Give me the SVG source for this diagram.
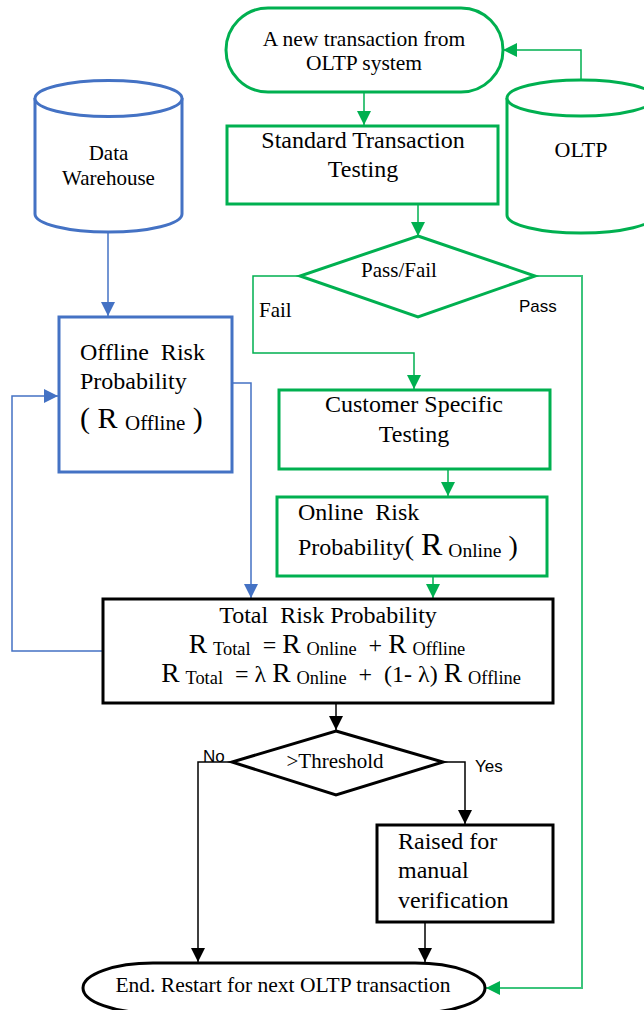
<svg xmlns="http://www.w3.org/2000/svg" width="644" height="1010" viewBox="0 0 644 1010">
<style>
.g{fill:#fff;stroke:#00B050;stroke-width:3}
.b{fill:#fff;stroke:#4472C4;stroke-width:3}
.k{fill:#fff;stroke:#000;stroke-width:3}
.t{font-family:"Liberation Serif",serif;fill:#000}
.s{font-family:"Liberation Sans",sans-serif;fill:#000;font-size:17px}
.cg{fill:none;stroke:#00B050;stroke-width:1.5}
.cg2{fill:none;stroke:#3CC47C;stroke-width:2}
.cb{fill:none;stroke:#4472C4;stroke-width:1.5}
.ck{fill:none;stroke:#000;stroke-width:1.5}
</style>
<defs>
<marker id="ag" markerUnits="userSpaceOnUse" markerWidth="14" markerHeight="14" viewBox="0 0 14 14" refX="14" refY="7" orient="auto"><path d="M0,0L14,7L0,14z" fill="#00B050"/></marker>
<marker id="ab" markerUnits="userSpaceOnUse" markerWidth="14" markerHeight="14" viewBox="0 0 14 14" refX="14" refY="7" orient="auto"><path d="M0,0L14,7L0,14z" fill="#4472C4"/></marker>
<marker id="ak" markerUnits="userSpaceOnUse" markerWidth="14" markerHeight="14" viewBox="0 0 14 14" refX="14" refY="7" orient="auto"><path d="M0,0L14,7L0,14z" fill="#000"/></marker>
</defs>

<g id="connectors">
<path class="cg" d="M581,80V50H503" marker-end="url(#ag)"/>
<path class="cg" d="M364,92V125" marker-end="url(#ag)"/>
<path class="cg" d="M418,204V236" marker-end="url(#ag)"/>
<path class="cg" d="M300,276H253V353H414V389" marker-end="url(#ag)"/>
<path class="cg2" d="M535,276H582V988H486" marker-end="url(#ag)"/>
<path class="cg" d="M448,469V496" marker-end="url(#ag)"/>
<path class="cg" d="M433,576V598" marker-end="url(#ag)"/>
<path class="cb" d="M108,232V316" marker-end="url(#ab)"/>
<path class="cb" d="M232,383H251V598" marker-end="url(#ab)"/>
<path class="cb" d="M103,651H12V396H58" marker-end="url(#ab)"/>
<path class="ck" d="M336,703V730" marker-end="url(#ak)"/>
<path class="ck" d="M232,762H198V962" marker-end="url(#ak)"/>
<path class="ck" d="M443,762H465V824" marker-end="url(#ak)"/>
<path class="ck" d="M425,922V962" marker-end="url(#ak)"/>
<text class="t" x="259" y="317" font-size="21">Fail</text>
<text class="s" x="519" y="312">Pass</text>
<text class="s" x="203" y="762">No</text>
<text class="s" x="475" y="772">Yes</text>
</g>

<g id="start">
<rect class="g" x="226" y="8" width="277" height="84" rx="42"/>
<text class="t" x="364" y="46" font-size="21.5" text-anchor="middle">A new transaction from</text>
<text class="t" x="364" y="70" font-size="21.5" text-anchor="middle">OLTP system</text>
</g>

<g id="oltp">
<path class="g" d="M507,98V215A74,18 0 0 0 655,215V98"/>
<ellipse class="g" cx="581" cy="98" rx="74" ry="18"/>
<text class="t" x="581" y="157" font-size="22" text-anchor="middle">OLTP</text>
</g>

<g id="standard">
<rect class="g" x="227" y="126" width="271" height="78"/>
<text class="t" x="363" y="148" font-size="24" text-anchor="middle">Standard Transaction</text>
<text class="t" x="363" y="177" font-size="24" text-anchor="middle">Testing</text>
</g>

<g id="passfail">
<path class="g" d="M418,236L535,276L418,317L300,276Z"/>
<text class="t" x="399" y="277" font-size="21" text-anchor="middle">Pass/Fail</text>
</g>

<g id="datawarehouse">
<path class="b" d="M35,98V214A73.5,18 0 0 0 182,214V98"/>
<ellipse class="b" cx="108.5" cy="98.5" rx="73.5" ry="18"/>
<text class="t" x="108.5" y="160" font-size="21" text-anchor="middle">Data</text>
<text class="t" x="108.5" y="185" font-size="21" text-anchor="middle">Warehouse</text>
</g>

<g id="offline">
<rect class="b" x="59" y="317" width="173" height="155"/>
<text class="t" x="80" y="360" font-size="24" xml:space="preserve">Offline  Risk</text>
<text class="t" x="80" y="389" font-size="24">Probability</text>
<text class="t" x="80" y="428" font-size="30" xml:space="preserve">( R <tspan font-size="21" dy="2">Offline</tspan><tspan dy="-2"> )</tspan></text>
</g>

<g id="customer">
<rect class="g" x="279" y="390" width="271" height="79"/>
<text class="t" x="414" y="412" font-size="24" text-anchor="middle">Customer Specific</text>
<text class="t" x="414" y="442" font-size="24" text-anchor="middle">Testing</text>
</g>

<g id="online">
<rect class="g" x="277" y="497" width="270" height="79"/>
<text class="t" x="298" y="520" font-size="24" xml:space="preserve">Online  Risk</text>
<text class="t" x="298" y="555" font-size="24" xml:space="preserve">Probability<tspan font-size="28">( </tspan><tspan font-size="32">R</tspan> <tspan font-size="19.5" dy="2">Online</tspan><tspan font-size="28" dy="-2"> )</tspan></text>
</g>

<g id="total">
<rect class="k" x="103" y="599" width="450" height="104"/>
<text class="t" x="328" y="623" font-size="24" text-anchor="middle" xml:space="preserve">Total  Risk Probability</text>
<text class="t" x="327" y="653" font-size="24" text-anchor="middle" xml:space="preserve"><tspan font-size="27.5">R</tspan> <tspan font-size="18.4" dy="2">Total</tspan><tspan dy="-2">  = </tspan><tspan font-size="27.5">R</tspan> <tspan font-size="18.4" dy="2">Online</tspan><tspan dy="-2">  + </tspan><tspan font-size="27.5">R</tspan> <tspan font-size="18.4" dy="2">Offline</tspan></text>
<text class="t" x="341" y="682" font-size="24" text-anchor="middle" xml:space="preserve"><tspan font-size="27.5">R</tspan> <tspan font-size="18.4" dy="2">Total</tspan><tspan dy="-2">  = λ </tspan><tspan font-size="27.5">R</tspan> <tspan font-size="18.4" dy="2">Online</tspan><tspan dy="-2">  +  (1- λ) </tspan><tspan font-size="27.5">R</tspan> <tspan font-size="18.4" dy="2">Offline</tspan></text>
</g>

<g id="threshold">
<path class="k" d="M336,731L443,762L336,795L232,762Z"/>
<text class="t" x="335" y="768" font-size="21" text-anchor="middle">&gt;Threshold</text>
</g>

<g id="raised">
<rect class="k" x="377" y="825" width="176" height="97"/>
<text class="t" x="398" y="849" font-size="24">Raised for</text>
<text class="t" x="398" y="878" font-size="24">manual</text>
<text class="t" x="398" y="908" font-size="24">verification</text>
</g>

<g id="end">
<rect class="k" x="83" y="963" width="402" height="50" rx="70" ry="25"/>
<text class="t" x="283" y="992" font-size="21.5" text-anchor="middle">End. Restart for next OLTP transaction</text>
</g>
</svg>
